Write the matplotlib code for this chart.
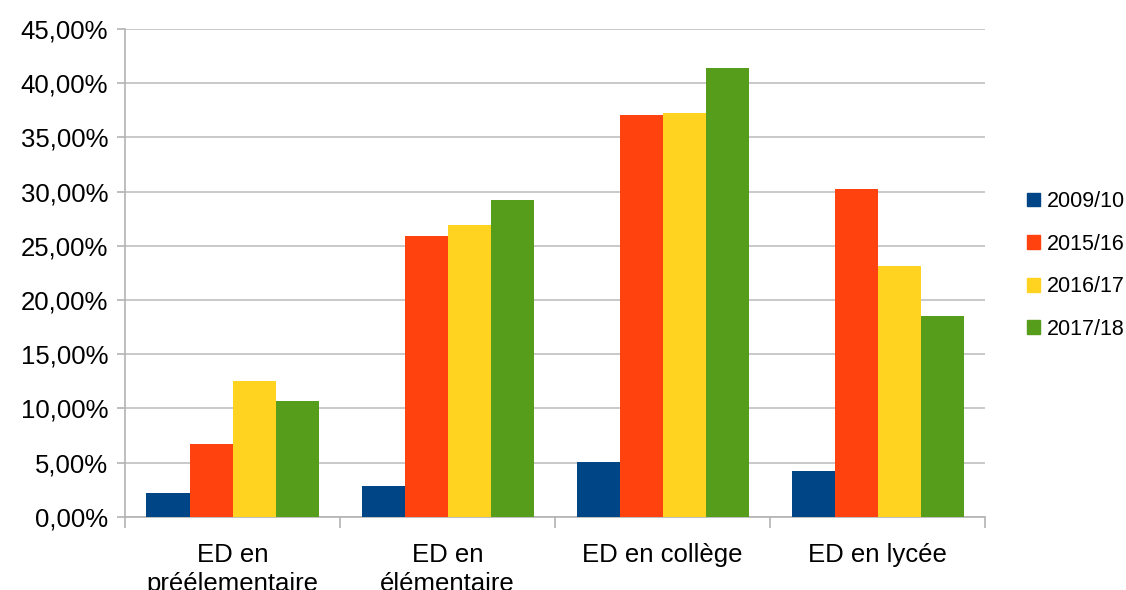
import matplotlib.pyplot as plt
import numpy as np
from matplotlib.ticker import FuncFormatter, FixedLocator
from matplotlib.patches import Patch

plt.rcParams['font.family'] = ['Liberation Sans', 'DejaVu Sans']

categories = ['ED en\npréélementaire', 'ED en\nélémentaire', 'ED en collège', 'ED en lycée']
years = ['2009/10', '2015/16', '2016/17', '2017/18']
v2009 = [2.2, 2.86, 5.07, 4.24]
v2015 = [6.73, 25.9, 37.08, 30.26]
v2016 = [12.55, 26.9, 37.27, 23.15]
v2017 = [10.7, 29.24, 41.4, 18.54]
colors = ['#004586', '#ff420e', '#ffd320', '#579d1c']

fig = plt.figure(figsize=(11.26, 5.9), dpi=100)
ax = fig.add_axes([0.111, 0.124, 0.764, 0.827])

x = np.arange(len(categories))
w = 0.2
series = [v2009, v2015, v2016, v2017]
for i, vals in enumerate(series):
    ax.bar(x + (i - 1.5) * w, vals, w, color=colors[i], zorder=3)

ax.set_xlim(-0.5, len(categories) - 0.5)
ax.set_ylim(0, 45)
ax.set_yticks(np.arange(0, 46, 5))
ax.yaxis.set_major_formatter(FuncFormatter(lambda v, p: ('%.2f' % v).replace('.', ',') + '%'))
ax.grid(axis='y', color='#c0c0c0', linewidth=1.2, zorder=0)

ax.set_xticks(x)
ax.set_xticklabels(categories, fontsize=18.5, linespacing=1.25)
ax.xaxis.set_minor_locator(FixedLocator(np.arange(-0.5, len(categories), 1)))
ax.tick_params(axis='x', which='major', length=0, pad=19)
ax.tick_params(axis='x', which='minor', length=8, color='#b3b3b3', width=1.2)
ax.tick_params(axis='y', labelsize=18.5, length=6, color='#b3b3b3', width=1.2, pad=6)

for s in ['top', 'right']:
    ax.spines[s].set_visible(False)
for s in ['left', 'bottom']:
    ax.spines[s].set_color('#b3b3b3')
    ax.spines[s].set_linewidth(1.2)

handles = [Patch(color=c, label=y) for c, y in zip(colors, years)]
fig.legend(handles=handles, loc='center left', bbox_to_anchor=(0.895, 0.55),
           frameon=False, fontsize=15.5, handlelength=0.6, handleheight=0.6,
           handletextpad=0.3, labelspacing=1.0)

fig.savefig('out.png', dpi=100)
